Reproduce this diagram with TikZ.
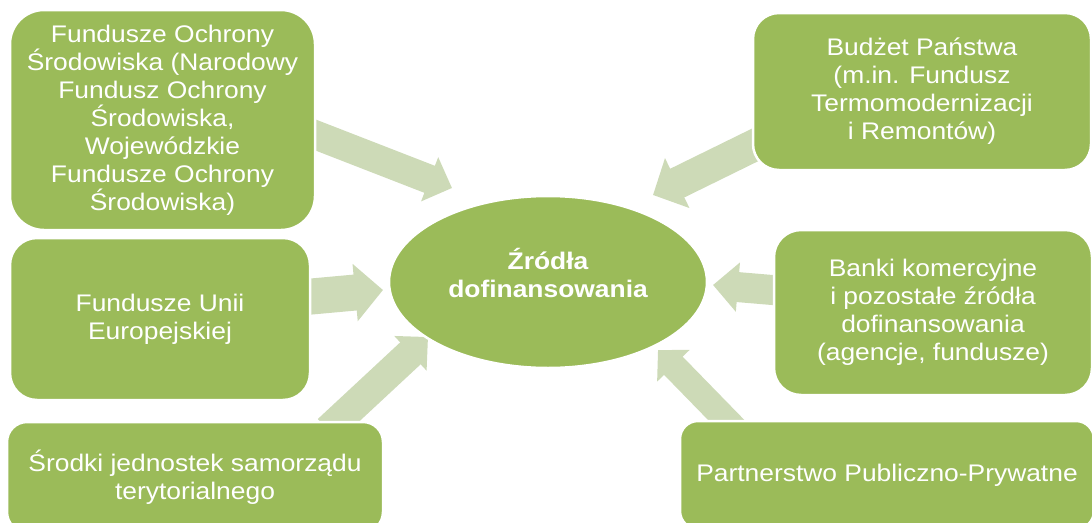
\documentclass[tikz,border=0pt]{standalone}
\usepackage{fontspec}
\setmainfont{Liberation Sans}[FakeStretch=1.1]
\usetikzlibrary{shapes.geometric,arrows.meta}
\definecolor{boxgreen}{HTML}{9BBB59}
\definecolor{arrowgreen}{HTML}{CDDAB7}
\tikzset{
  srcbox/.style={fill=boxgreen, draw=white, line width=2.5pt, text=white,
    align=center, font=\fontsize{24}{28}\selectfont, inner sep=0pt},
  hub/.style={ellipse, fill=boxgreen, draw=white, line width=2.5pt,
    inner sep=0pt, minimum width=318pt, minimum height=172pt},
  hubtext/.style={text=white, align=center,
    font=\fontsize{24}{27.5}\selectfont\bfseries, inner sep=0pt},
  bigarrow/.style={draw=arrowgreen, line width=#1, line cap=butt},
}
\begin{document}
\begin{tikzpicture}[x=1pt,y=-1pt]
\useasboundingbox (0,0) rectangle (1092,522);
% arrow end points
\coordinate (a1s) at (295,127);   \coordinate (a1e) at (452,188);
\coordinate (a2s) at (295,298);   \coordinate (a2e) at (383,290);
\coordinate (a3s) at (328,430);   \coordinate (a3e) at (428,337);
\coordinate (a4s) at (763,141);   \coordinate (a4e) at (653,195);
\coordinate (a5s) at (790,291.5); \coordinate (a5e) at (713,285);
\coordinate (a6s) at (736,430);   \coordinate (a6e) at (658,350);
% arrows
\draw[bigarrow=29pt, -{Triangle[length=24pt,width=46pt]}] (a1s) -- (a1e);
\draw[bigarrow=36pt, -{Triangle[length=28pt,width=56pt]}] (a2s) -- (a2e);
\draw[bigarrow=30pt, -{Triangle[length=24pt,width=46pt]}] (a3s) -- (a3e);
\draw[bigarrow=32pt, -{Triangle[length=27pt,width=54pt]}] (a4s) -- (a4e);
\draw[bigarrow=30pt, -{Triangle[length=25pt,width=48pt]}] (a5s) -- (a5e);
\draw[bigarrow=26pt, -{Triangle[length=22pt,width=44pt]}] (a6s) -- (a6e);
% boxes
\node[srcbox, minimum width=305pt, minimum height=220pt, rounded corners=34pt] (b1) at (162.5,120)
  {Fundusze Ochrony\\Środowiska (Narodowy\\Fundusz Ochrony\\Środowiska,\\Wojewódzkie\\Fundusze Ochrony\\Środowiska)};
\node[srcbox, minimum width=300pt, minimum height=162pt, rounded corners=27pt] (b2) at (160,319)
  {Fundusze Unii\\Europejskiej};
\node[srcbox, minimum width=376pt, minimum height=110pt, rounded corners=20pt] (b3) at (195,477)
  {Środki jednostek samorządu\\terytorialnego};
\node[srcbox, minimum width=338pt, minimum height=157pt, rounded corners=26pt] (b4) at (922,91.5)
  {Budżet Państwa\\(m.in. Fundusz\\Termomodernizacji\\i Remontów)};
\node[srcbox, minimum width=318pt, minimum height=165pt, rounded corners=27pt] (b5) at (933,312.5)
  {Banki komercyjne\\i pozostałe źródła\\dofinansowania\\(agencje, fundusze)};
\node[srcbox, minimum width=414pt, minimum height=108pt, rounded corners=18pt] (b6) at (887,475)
  {Partnerstwo Publiczno-Prywatne};
% hub
\node[hub, label={[hubtext, yshift=9pt]center:{Źródła\\dofinansowania}}] (hub) at (548,282) {};
\end{tikzpicture}
\end{document}
